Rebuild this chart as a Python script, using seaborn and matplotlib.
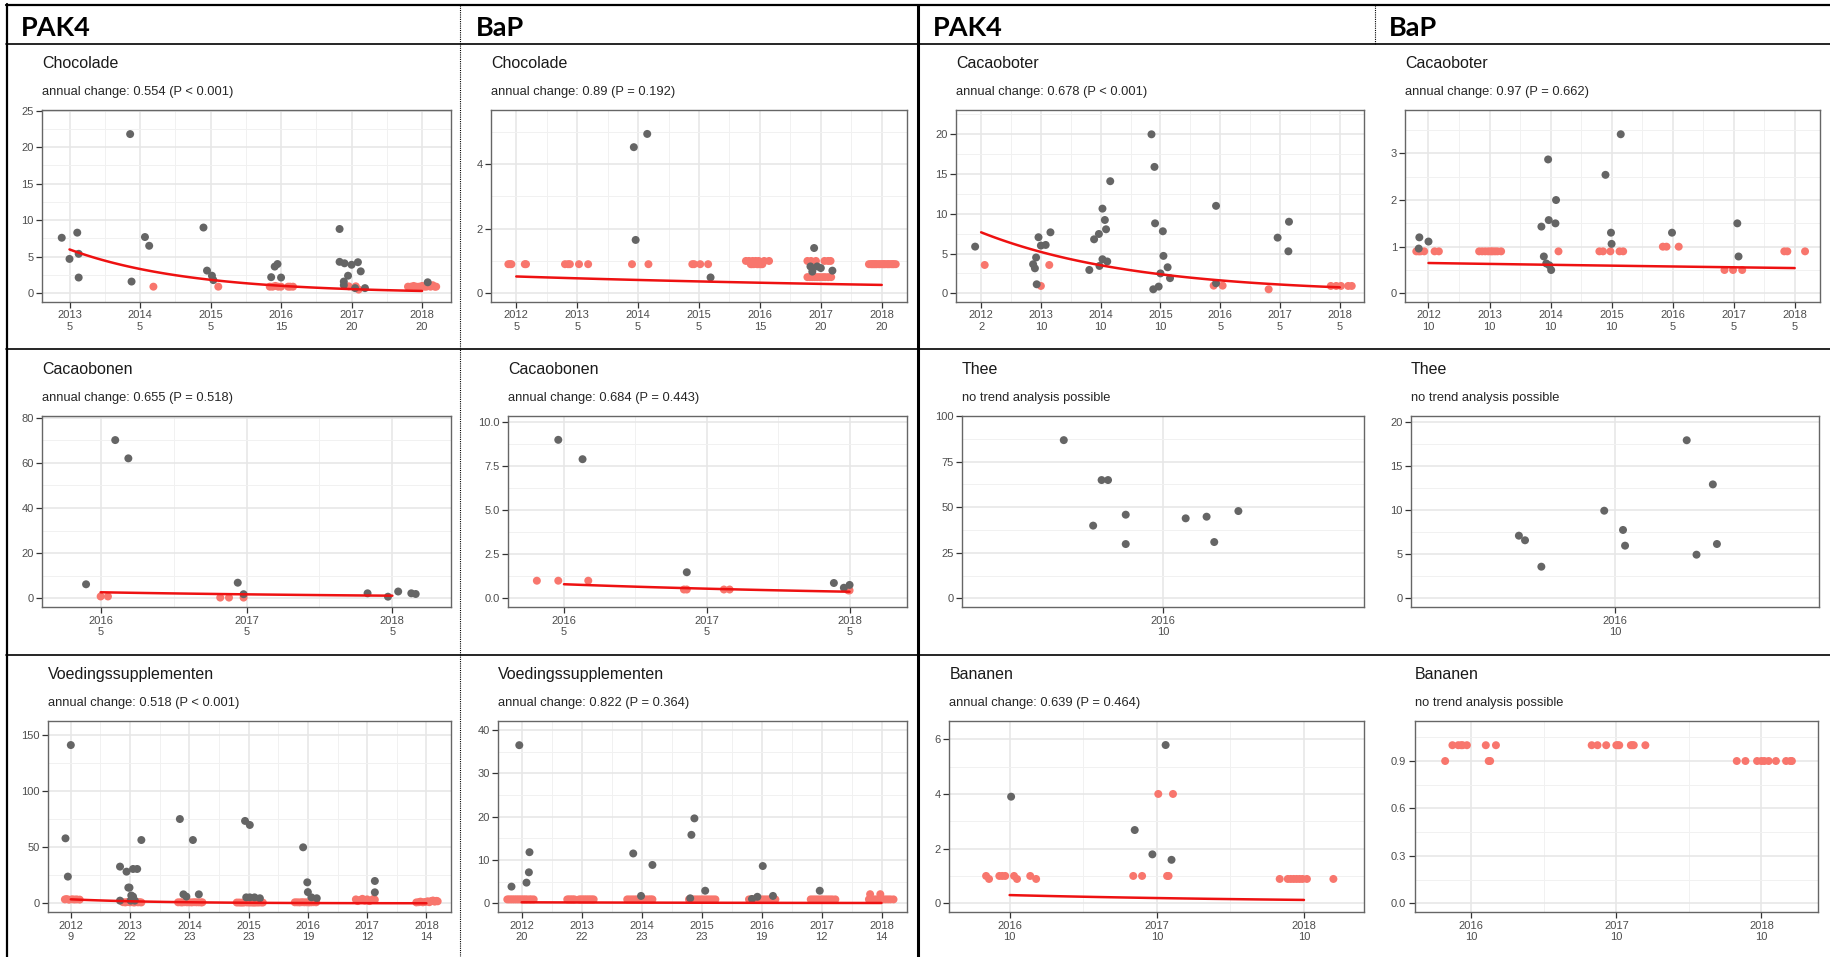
import numpy as np
import pandas as pd
import matplotlib
matplotlib.use("Agg")
import matplotlib.pyplot as plt
import seaborn as sns
from matplotlib.lines import Line2D

# ---------------------------------------------------------------- data
headers = ["PAK4", "BaP", "PAK4", "BaP"]

# Row 1 -- Chocolade (PAK4)
choc_pak4_title = "Chocolade"
choc_pak4_sub = "annual change: 0.554 (P < 0.001)"
choc_pak4_years = [2013, 2014, 2015, 2016, 2017, 2018]
choc_pak4_n = [5, 5, 5, 15, 20, 20]
choc_pak4_yticks = [0, 5, 10, 15, 20, 25]
choc_pak4_grey_x = [2012.89, 2013.00, 2013.11, 2013.13, 2013.13,
                    2013.86, 2013.88, 2014.07, 2014.13,
                    2014.90, 2014.95, 2015.02, 2015.04,
                    2015.86, 2015.91, 2015.95, 2016.00,
                    2016.83, 2016.83, 2016.90, 2016.95, 2017.00, 2017.09, 2017.13,
                    2016.89, 2016.89, 2017.05, 2017.19, 2018.08]
choc_pak4_grey_y = [7.6, 4.7, 8.3, 5.4, 2.15,
                    21.8, 1.6, 7.7, 6.5,
                    9.0, 3.1, 2.4, 1.8,
                    2.2, 3.65, 4.0, 2.15,
                    8.8, 4.3, 4.1, 2.4, 3.9, 4.25, 3.0,
                    1.6, 1.1, 0.7, 0.7, 1.5]
choc_pak4_red_x = [2014.19, 2015.11, 2015.84, 2015.88, 2015.92, 2015.96, 2016.00, 2016.10,
                   2016.13, 2016.17, 2016.96, 2017.06, 2017.10,
                   2017.80, 2017.84, 2017.88, 2017.92, 2017.96, 2018.00, 2018.03, 2018.06,
                   2018.09, 2018.12, 2018.15, 2018.18, 2018.20]
choc_pak4_red_y = [0.9, 0.9, 0.9, 0.9, 1.0, 0.9, 0.9, 0.9,
                   0.9, 0.9, 0.95, 0.95, 0.5,
                   0.9, 0.9, 1.0, 0.9, 0.9, 1.0, 0.9, 0.9,
                   1.0, 0.9, 1.1, 0.9, 0.9]
choc_pak4_trend = [2013, 2018, 6.0, 0.554]   # start year, end year, start level, annual change

# Row 1 -- Chocolade (BaP)
choc_bap_title = "Chocolade"
choc_bap_sub = "annual change: 0.89 (P = 0.192)"
choc_bap_years = [2012, 2013, 2014, 2015, 2016, 2017, 2018]
choc_bap_n = [5, 5, 5, 5, 15, 20, 20]
choc_bap_yticks = [0, 2, 4]
choc_bap_grey_x = [2013.93, 2014.15, 2013.96, 2015.19, 2016.89, 2016.83, 2016.94, 2017.00,
                   2017.19, 2016.86]
choc_bap_grey_y = [4.52, 4.93, 1.65, 0.49, 1.40, 0.83, 0.83, 0.78, 0.70, 0.67]
choc_bap_red_x = [2011.87, 2011.90, 2011.92, 2012.14, 2012.16,
                  2012.80, 2012.85, 2012.88, 2013.03, 2013.18,
                  2013.90, 2014.17,
                  2014.89, 2014.92, 2015.02, 2015.15,
                  2015.77, 2015.82, 2015.88, 2015.93, 2015.98, 2016.07, 2016.15,
                  2015.85, 2015.90, 2015.95, 2016.00, 2016.04, 2015.87, 2015.97, 2016.02,
                  2016.78, 2016.84, 2016.92, 2017.06, 2017.12, 2017.16,
                  2016.78, 2016.82, 2016.86, 2016.90, 2016.94, 2016.98, 2017.03, 2017.07,
                  2017.12, 2017.17,
                  2017.79, 2017.82, 2017.84, 2017.86, 2017.88, 2017.90, 2017.92, 2017.95,
                  2017.97, 2018.00, 2018.02, 2018.04, 2018.06, 2018.09, 2018.11, 2018.13,
                  2018.16, 2018.18, 2018.20, 2018.23]
choc_bap_red_y = [0.9, 0.9, 0.9, 0.9, 0.9,
                  0.9, 0.9, 0.9, 0.9, 0.9,
                  0.9, 0.9,
                  0.9, 0.9, 0.9, 0.9,
                  1.0, 1.0, 1.0, 1.0, 1.0, 1.0, 1.0,
                  0.9, 0.9, 0.9, 0.9, 0.9, 0.9, 0.9, 0.9,
                  1.0, 1.0, 1.0, 1.0, 1.0, 1.0,
                  0.5, 0.5, 0.5, 0.5, 0.5, 0.5, 0.5, 0.5,
                  0.5, 0.5,
                  0.9, 0.9, 0.9, 0.9, 0.9, 0.9, 0.9, 0.9,
                  0.9, 0.9, 0.9, 0.9, 0.9, 0.9, 0.9, 0.9,
                  0.9, 0.9, 0.9, 0.9]
choc_bap_trend = [2012, 2018, 0.52, 0.89]

# Row 1 -- Cacaoboter (PAK4)
boter_pak4_title = "Cacaoboter"
boter_pak4_sub = "annual change: 0.678 (P < 0.001)"
boter_pak4_years = [2012, 2013, 2014, 2015, 2016, 2017, 2018]
boter_pak4_n = [2, 10, 10, 10, 5, 5, 5]
boter_pak4_yticks = [0, 5, 10, 15, 20]
boter_pak4_grey_x = [2011.90, 2012.87, 2012.90, 2012.92, 2012.96, 2013.00, 2013.08, 2013.16, 2012.93,
                     2013.81, 2013.89, 2013.97, 2013.98, 2014.03, 2014.03, 2014.07, 2014.09, 2014.11, 2014.16,
                     2014.85, 2014.90, 2014.91, 2015.04, 2015.05, 2015.00, 2015.12, 2015.16, 2014.88, 2014.97,
                     2015.93, 2015.93, 2016.96, 2017.14, 2017.15]
boter_pak4_grey_y = [5.87, 3.65, 3.14, 4.5, 7.05, 6.0, 6.08, 7.67, 1.13,
                     2.93, 6.79, 7.46, 3.44, 10.65, 4.28, 9.22, 8.05, 4.0, 14.1,
                     20.0, 15.9, 8.8, 7.8, 4.7, 2.5, 3.27, 1.9, 0.5, 0.84,
                     11.0, 1.26, 7.0, 5.28, 9.0]
boter_pak4_red_x = [2012.06, 2013.00, 2013.14, 2015.89, 2016.04, 2016.81,
                    2017.85, 2017.94, 2018.02, 2018.14, 2018.20]
boter_pak4_red_y = [3.56, 0.92, 3.56, 0.96, 0.96, 0.5,
                    0.92, 0.92, 0.92, 0.92, 0.92]
boter_pak4_trend = [2012, 2018, 7.67, 0.678]

# Row 1 -- Cacaoboter (BaP)
boter_bap_title = "Cacaoboter"
boter_bap_sub = "annual change: 0.97 (P = 0.662)"
boter_bap_years = [2012, 2013, 2014, 2015, 2016, 2017, 2018]
boter_bap_n = [10, 10, 10, 10, 5, 5, 5]
boter_bap_yticks = [0, 1, 2, 3]
boter_bap_grey_x = [2011.85, 2011.84, 2012.00, 2013.85, 2013.97, 2014.08, 2013.96, 2014.09,
                    2013.89, 2013.93, 2013.98, 2014.01, 2014.90, 2014.99, 2015.00, 2015.15,
                    2015.99, 2017.06, 2017.08]
boter_bap_grey_y = [1.2, 0.96, 1.11, 1.43, 1.57, 1.5, 2.87, 2.0,
                    0.79, 0.64, 0.6, 0.5, 2.54, 1.3, 1.06, 3.41,
                    1.3, 1.5, 0.79]
boter_bap_red_x = [2011.80, 2011.84, 2011.87, 2011.93, 2012.10, 2012.17,
                   2012.83, 2012.88, 2012.93, 2012.98, 2013.02, 2013.05, 2013.09, 2013.13, 2013.19,
                   2014.13,
                   2014.80, 2014.86, 2014.98, 2015.13, 2015.19,
                   2015.84, 2015.90, 2016.10,
                   2016.85, 2016.99, 2017.14,
                   2017.83, 2017.88, 2018.17]
boter_bap_red_y = [0.9, 0.9, 0.9, 0.9, 0.9, 0.9,
                   0.9, 0.9, 0.9, 0.9, 0.9, 0.9, 0.9, 0.9, 0.9,
                   0.9,
                   0.9, 0.9, 0.9, 0.9, 0.9,
                   1.0, 1.0, 1.0,
                   0.5, 0.5, 0.5,
                   0.9, 0.9, 0.9]
boter_bap_trend = [2012, 2018, 0.65, 0.97]

# Row 2 -- Cacaobonen (PAK4)
bonen_pak4_title = "Cacaobonen"
bonen_pak4_sub = "annual change: 0.655 (P = 0.518)"
bonen_pak4_years = [2016, 2017, 2018]
bonen_pak4_n = [5, 5, 5]
bonen_pak4_yticks = [0, 20, 40, 60, 80]
bonen_pak4_grey_x = [2015.90, 2016.10, 2016.19, 2016.94, 2016.98, 2017.83, 2017.97, 2018.04,
                     2018.13, 2018.16]
bonen_pak4_grey_y = [6.2, 70.1, 62.0, 6.9, 1.8, 2.2, 0.7, 3.0, 2.2, 1.9]
bonen_pak4_red_x = [2016.00, 2016.05, 2016.82, 2016.88, 2016.98]
bonen_pak4_red_y = [0.8, 0.8, 0.3, 0.3, 0.3]
bonen_pak4_trend = [2016, 2018, 2.66, 0.655]

# Row 2 -- Cacaobonen (BaP)
bonen_bap_title = "Cacaobonen"
bonen_bap_sub = "annual change: 0.684 (P = 0.443)"
bonen_bap_years = [2016, 2017, 2018]
bonen_bap_n = [5, 5, 5]
bonen_bap_yticks = [0.0, 2.5, 5.0, 7.5, 10.0]
bonen_bap_grey_x = [2015.96, 2016.13, 2016.86, 2017.89, 2017.96, 2018.00]
bonen_bap_grey_y = [9.0, 7.9, 1.48, 0.87, 0.6, 0.76]
bonen_bap_red_x = [2015.81, 2015.96, 2016.17, 2016.84, 2016.86, 2017.12, 2017.16, 2017.99, 2018.00]
bonen_bap_red_y = [1.0, 1.0, 1.0, 0.5, 0.5, 0.5, 0.5, 0.45, 0.45]
bonen_bap_trend = [2016, 2018, 0.80, 0.684]

# Row 2 -- Thee (PAK4)
thee_pak4_title = "Thee"
thee_pak4_sub = "no trend analysis possible"
thee_pak4_years = [2016]
thee_pak4_n = [10]
thee_pak4_yticks = [0, 25, 50, 75, 100]
thee_pak4_grey_x = [2015.753, 2015.826, 2015.847, 2015.863, 2015.907, 2015.907, 2016.056,
                    2016.108, 2016.127, 2016.187]
thee_pak4_grey_y = [86.8, 39.9, 64.9, 64.9, 45.9, 29.8, 43.9, 44.8, 30.9, 47.9]
thee_pak4_red_x = []
thee_pak4_red_y = []

# Row 2 -- Thee (BaP)
thee_bap_title = "Thee"
thee_bap_sub = "no trend analysis possible"
thee_bap_years = [2016]
thee_bap_n = [10]
thee_bap_yticks = [0, 5, 10, 15, 20]
thee_bap_grey_x = [2015.765, 2015.780, 2015.820, 2015.974, 2016.020, 2016.025, 2016.176,
                   2016.200, 2016.240, 2016.250]
thee_bap_grey_y = [7.09, 6.57, 3.58, 9.92, 7.74, 5.96, 17.9, 4.94, 12.9, 6.15]
thee_bap_red_x = []
thee_bap_red_y = []

# Row 3 -- Voedingssupplementen (PAK4)
supp_pak4_title = "Voedingssupplementen"
supp_pak4_sub = "annual change: 0.518 (P < 0.001)"
supp_pak4_years = [2012, 2013, 2014, 2015, 2016, 2017, 2018]
supp_pak4_n = [9, 22, 23, 23, 19, 12, 14]
supp_pak4_yticks = [0, 50, 100, 150]
supp_pak4_grey_x = [2011.91, 2012.00, 2011.95,
                    2012.83, 2012.94, 2013.05, 2013.12, 2012.97, 2012.99, 2013.02, 2013.05,
                    2013.19, 2012.83, 2013.01, 2013.08,
                    2013.84, 2014.06, 2013.90, 2013.95, 2014.16,
                    2014.94, 2015.02, 2014.96, 2015.02, 2015.10, 2015.19,
                    2015.92, 2015.99, 2016.00, 2016.06, 2016.15,
                    2017.13, 2017.13]
supp_pak4_grey_y = [57.9, 141.0, 23.8,
                    32.7, 28.2, 30.6, 30.6, 14.0, 14.0, 7.0, 6.0,
                    56.4, 2.4, 2.4, 2.4,
                    75.1, 56.4, 8.0, 6.0, 8.0,
                    73.4, 69.8, 5.3, 5.3, 5.3, 4.5,
                    49.9, 18.7, 10.0, 5.3, 4.5,
                    19.9, 9.8]
supp_pak4_red_x = [2011.90, 2011.93, 2011.97, 2012.02, 2012.06, 2012.10, 2012.15,
                   2012.88, 2012.92, 2012.96, 2013.00, 2013.04, 2013.07, 2013.10, 2013.13,
                   2013.16, 2013.19,
                   2013.81, 2013.85, 2013.88, 2013.92, 2013.96, 2014.00, 2014.04, 2014.08,
                   2014.12, 2014.16, 2014.20, 2014.22,
                   2014.80, 2014.84, 2014.88, 2014.92, 2014.97, 2015.01, 2015.05, 2015.09,
                   2015.13, 2015.17, 2015.21, 2015.24,
                   2015.78, 2015.82, 2015.86, 2015.90, 2015.94, 2015.98, 2016.02, 2016.06,
                   2016.10, 2016.14,
                   2016.81, 2016.84, 2016.88, 2016.92, 2016.96, 2017.00, 2017.04, 2017.08,
                   2017.11, 2017.13,
                   2017.83, 2017.87, 2017.90, 2017.94, 2017.98, 2018.02, 2018.05, 2018.08,
                   2018.11, 2018.14, 2018.17, 2018.19]
supp_pak4_red_y = [3.5, 3.8, 3.2, 3.6, 3.4, 3.5, 3.3,
                   1.0, 0.8, 1.2, 0.9, 1.0, 0.7, 1.1, 0.9,
                   1.0, 0.8,
                   0.9, 0.9, 0.8, 1.0, 0.9, 0.9, 0.8, 1.0,
                   0.9, 0.9, 0.8, 0.9,
                   0.7, 0.7, 0.6, 0.7, 0.8, 0.7, 0.7, 0.6,
                   0.7, 0.7, 0.8, 0.7,
                   0.9, 0.9, 0.8, 1.0, 0.9, 0.9, 0.8, 0.9,
                   1.0, 0.9,
                   3.5, 2.0, 3.0, 4.0, 2.5, 3.5, 2.0, 3.0,
                   4.0, 3.2,
                   0.8, 1.0, 1.5, 0.9, 1.2, 1.8, 1.0, 2.0,
                   2.5, 1.5, 2.2, 1.8]
supp_pak4_trend = [2012, 2018, 3.56, 0.518]

# Row 3 -- Voedingssupplementen (BaP)
supp_bap_title = "Voedingssupplementen"
supp_bap_sub = "annual change: 0.822 (P = 0.364)"
supp_bap_years = [2012, 2013, 2014, 2015, 2016, 2017, 2018]
supp_bap_n = [20, 22, 23, 23, 19, 12, 14]
supp_bap_yticks = [0, 10, 20, 30, 40]
supp_bap_grey_x = [2011.83, 2011.96, 2012.08, 2012.12, 2012.13, 2013.86, 2014.18, 2013.99,
                   2014.81, 2014.83, 2014.88, 2015.06, 2015.84, 2015.93, 2016.02, 2016.19,
                   2016.97]
supp_bap_grey_y = [3.85, 36.5, 4.77, 7.15, 11.8, 11.5, 8.85, 1.7,
                   1.15, 15.8, 19.6, 2.9, 1.0, 1.5, 8.6, 1.7,
                   2.9]
supp_bap_red_x = [2011.76, 2011.79, 2011.82, 2011.85, 2011.88, 2011.91, 2011.94, 2011.97,
                  2012.00, 2012.03, 2012.06, 2012.09, 2012.13, 2012.16, 2012.20,
                  2012.76, 2012.79, 2012.82, 2012.85, 2012.88, 2012.96, 2012.99, 2013.02,
                  2013.05, 2013.08, 2013.11, 2013.14, 2013.17, 2013.20,
                  2013.76, 2013.80, 2013.84, 2013.88, 2013.92, 2013.96, 2014.00, 2014.04,
                  2014.08, 2014.12, 2014.15, 2014.18,
                  2014.79, 2014.83, 2014.87, 2014.91, 2014.95, 2014.99, 2015.03, 2015.07,
                  2015.11, 2015.15, 2015.19, 2015.23,
                  2015.79, 2015.83, 2015.87, 2015.91, 2015.95, 2015.99, 2016.03, 2016.07,
                  2016.11, 2016.15, 2016.19, 2016.23,
                  2016.82, 2016.86, 2016.90, 2016.94, 2016.98, 2017.02, 2017.06, 2017.10,
                  2017.14, 2017.18, 2017.23,
                  2017.79, 2017.83, 2017.87, 2017.91, 2017.95, 2017.99, 2018.03, 2018.07,
                  2018.11, 2018.15, 2018.20, 2017.81, 2017.98]
supp_bap_red_y = [0.9] * 87 + [2.1, 2.1]
supp_bap_trend = [2012, 2018, 0.23, 0.822]

# Row 3 -- Bananen (PAK4)
banaan_pak4_title = "Bananen"
banaan_pak4_sub = "annual change: 0.639 (P = 0.464)"
banaan_pak4_years = [2016, 2017, 2018]
banaan_pak4_n = [10, 10, 10]
banaan_pak4_yticks = [0, 2, 4, 6]
banaan_pak4_grey_x = [2016.01, 2016.85, 2016.97, 2017.06, 2017.10]
banaan_pak4_grey_y = [3.9, 2.68, 1.79, 5.79, 1.59]
banaan_pak4_red_x = [2015.84, 2015.86, 2015.93, 2015.95, 2015.97, 2016.03, 2016.05, 2016.14, 2016.18,
                     2016.84, 2016.90, 2017.01, 2017.11, 2017.07, 2017.08,
                     2017.835, 2017.89, 2017.91, 2017.93, 2017.95, 2017.97, 2017.99, 2018.02, 2018.20]
banaan_pak4_red_y = [1.0, 0.89, 1.0, 1.0, 1.0, 1.0, 0.89, 1.0, 0.89,
                     1.0, 1.0, 4.0, 4.0, 1.0, 1.0,
                     0.89, 0.89, 0.89, 0.89, 0.89, 0.89, 0.89, 0.89, 0.89]
banaan_pak4_trend = [2016, 2018, 0.30, 0.639]

# Row 3 -- Bananen (BaP)
banaan_bap_title = "Bananen"
banaan_bap_sub = "no trend analysis possible"
banaan_bap_years = [2016, 2017, 2018]
banaan_bap_n = [10, 10, 10]
banaan_bap_yticks = [0.0, 0.3, 0.6, 0.9]
banaan_bap_grey_x = []
banaan_bap_grey_y = []
banaan_bap_red_x = [2015.82, 2015.87, 2015.91, 2015.93, 2015.94, 2015.97, 2016.10, 2016.12, 2016.13, 2016.17,
                    2016.83, 2016.87, 2016.93, 2017.00, 2017.01, 2017.02, 2017.10, 2017.11, 2017.12, 2017.20,
                    2017.83, 2017.89, 2017.97, 2018.00, 2018.02, 2018.05, 2018.10, 2018.17, 2018.20, 2018.21]
banaan_bap_red_y = [0.9, 1.0, 1.0, 1.0, 1.0, 1.0, 1.0, 0.9, 0.9, 1.0,
                    1.0, 1.0, 1.0, 1.0, 1.0, 1.0, 1.0, 1.0, 1.0, 1.0,
                    0.9, 0.9, 0.9, 0.9, 0.9, 0.9, 0.9, 0.9, 0.9, 0.9]

# ---------------------------------------------------------------- style
GREY = "#656565"
SALMON = "#F8766D"
TREND = "#EE1111"
W, H = 1830, 957

sns.set_theme(style="white")
plt.rcParams["font.family"] = ["Liberation Sans", "DejaVu Sans"]

fig = plt.figure(figsize=(W / 100, H / 100), dpi=100)
fig.patch.set_facecolor("white")


def minor_ticks(major, lim):
    if len(major) < 2:
        return []
    step = major[1] - major[0]
    cand = [major[0] - step / 2] + [m + step / 2 for m in major]
    return [c for c in cand if lim[0] <= c <= lim[1]]


def panel(box, title, sub, years, counts, yticks, yfmt, xlim, ylim,
          gx, gy, rx, ry, trend=None):
    l, r, t, b = box
    ax = fig.add_axes([l / W, 1 - b / H, (r - l) / W, (b - t) / H])
    ax.set_xlim(*xlim)
    ax.set_ylim(*ylim)
    ax.set_xticks(years)
    ax.set_xticklabels([f"{y}\n{c}" for y, c in zip(years, counts)])
    ax.set_yticks(yticks)
    ax.set_yticklabels([yfmt.format(v) for v in yticks])
    ax.set_xticks(minor_ticks(years, xlim), minor=True)
    ax.set_yticks(minor_ticks(yticks, ylim), minor=True)
    ax.grid(which="major", color="#E6E6E6", lw=1.1, zorder=0)
    ax.grid(which="minor", color="#F1F1F1", lw=0.7, zorder=0)
    ax.set_axisbelow(True)
    ax.tick_params(which="minor", length=0)
    ax.tick_params(which="major", length=4, width=0.9, color="#333333",
                   labelsize=8, labelcolor="#4D4D4D", pad=2,
                   bottom=True, left=True, top=False, right=False)
    for lbl in ax.get_xticklabels():
        lbl.set_linespacing(1.2)
    for sp in ax.spines.values():
        sp.set_color("#666666")
        sp.set_linewidth(1.0)

    df = pd.DataFrame({
        "year": list(rx) + list(gx),
        "value": list(ry) + list(gy),
        "status": ["red"] * len(rx) + ["grey"] * len(gx),
    })
    sns.scatterplot(data=df, x="year", y="value", hue="status",
                    palette={"red": SALMON, "grey": GREY}, s=33, linewidth=0,
                    legend=False, ax=ax, zorder=3)
    if trend is not None:
        t0, t1, a, rate = trend
        tt = np.linspace(t0, t1, 80)
        sns.lineplot(x=tt, y=a * rate ** (tt - t0), color=TREND, lw=1.8,
                     ax=ax, zorder=4)
    ax.set_xlabel("")
    ax.set_ylabel("")

    fig.text(l / W, 1 - (t - 42) / H, title, ha="left", va="baseline",
             fontsize=11.5, color="#1A1A1A")
    fig.text(l / W, 1 - (t - 14.5) / H, sub, ha="left", va="baseline",
             fontsize=9.3, color="#262626")
    return ax


T1, B1 = 110, 302
T2, B2 = 415.7, 607.3
T3, B3 = 720.7, 912.3

panel((42, 451, T1, B1), choc_pak4_title, choc_pak4_sub, choc_pak4_years, choc_pak4_n,
      choc_pak4_yticks, "{:.0f}", (2012.61, 2018.41), (-1.2, 25.1),
      choc_pak4_grey_x, choc_pak4_grey_y, choc_pak4_red_x, choc_pak4_red_y, choc_pak4_trend)
panel((491.3, 906.7, T1, B1), choc_bap_title, choc_bap_sub, choc_bap_years, choc_bap_n,
      choc_bap_yticks, "{:.0f}", (2011.59, 2018.41), (-0.27, 5.67),
      choc_bap_grey_x, choc_bap_grey_y, choc_bap_red_x, choc_bap_red_y, choc_bap_trend)
panel((956, 1364.3, T1, B1), boter_pak4_title, boter_pak4_sub, boter_pak4_years, boter_pak4_n,
      boter_pak4_yticks, "{:.0f}", (2011.58, 2018.41), (-1.1, 23.06),
      boter_pak4_grey_x, boter_pak4_grey_y, boter_pak4_red_x, boter_pak4_red_y, boter_pak4_trend)
panel((1405.3, 1819.7, T1, B1), boter_bap_title, boter_bap_sub, boter_bap_years, boter_bap_n,
      boter_bap_yticks, "{:.0f}", (2011.62, 2018.41), (-0.186, 3.93),
      boter_bap_grey_x, boter_bap_grey_y, boter_bap_red_x, boter_bap_red_y, boter_bap_trend)

panel((42.3, 450.7, T2, B2), bonen_pak4_title, bonen_pak4_sub, bonen_pak4_years, bonen_pak4_n,
      bonen_pak4_yticks, "{:.0f}", (2015.6, 2018.40), (-4.0, 80.9),
      bonen_pak4_grey_x, bonen_pak4_grey_y, bonen_pak4_red_x, bonen_pak4_red_y, bonen_pak4_trend)
panel((508.3, 906.7, T2, B2), bonen_bap_title, bonen_bap_sub, bonen_bap_years, bonen_bap_n,
      bonen_bap_yticks, "{:.1f}", (2015.61, 2018.40), (-0.51, 10.37),
      bonen_bap_grey_x, bonen_bap_grey_y, bonen_bap_red_x, bonen_bap_red_y, bonen_bap_trend)
panel((962, 1364.3, T2, B2), thee_pak4_title, thee_pak4_sub, thee_pak4_years, thee_pak4_n,
      thee_pak4_yticks, "{:.0f}", (2015.5, 2016.5), (-4.9, 100.2),
      thee_pak4_grey_x, thee_pak4_grey_y, thee_pak4_red_x, thee_pak4_red_y)
panel((1410.7, 1819, T2, B2), thee_bap_title, thee_bap_sub, thee_bap_years, thee_bap_n,
      thee_bap_yticks, "{:.0f}", (2015.5, 2016.5), (-1.02, 20.68),
      thee_bap_grey_x, thee_bap_grey_y, thee_bap_red_x, thee_bap_red_y)

panel((48.3, 450.7, T3, B3), supp_pak4_title, supp_pak4_sub, supp_pak4_years, supp_pak4_n,
      supp_pak4_yticks, "{:.0f}", (2011.62, 2018.41), (-8.0, 162.7),
      supp_pak4_grey_x, supp_pak4_grey_y, supp_pak4_red_x, supp_pak4_red_y, supp_pak4_trend)
panel((498.3, 906.7, T3, B3), supp_bap_title, supp_bap_sub, supp_bap_years, supp_bap_n,
      supp_bap_yticks, "{:.0f}", (2011.61, 2018.42), (-2.08, 42.15),
      supp_bap_grey_x, supp_bap_grey_y, supp_bap_red_x, supp_bap_red_y, supp_bap_trend)
panel((949.3, 1364.3, T3, B3), banaan_pak4_title, banaan_pak4_sub, banaan_pak4_years, banaan_pak4_n,
      banaan_pak4_yticks, "{:.0f}", (2015.59, 2018.41), (-0.33, 6.68),
      banaan_pak4_grey_x, banaan_pak4_grey_y, banaan_pak4_red_x, banaan_pak4_red_y, banaan_pak4_trend)
panel((1414.7, 1818, T3, B3), banaan_bap_title, banaan_bap_sub, banaan_bap_years, banaan_bap_n,
      banaan_bap_yticks, "{:.1f}", (2015.61, 2018.39), (-0.057, 1.155),
      banaan_bap_grey_x, banaan_bap_grey_y, banaan_bap_red_x, banaan_bap_red_y)

# ---------------------------------------------------------------- header & frame
for x, txt in zip([21, 476, 933, 1389], headers):
    fig.text(x / W, 1 - 36 / H, txt, ha="left", va="baseline", fontsize=19.5,
             fontweight="bold", family=["Lato", "DejaVu Sans"], color="black")


def fline(x0, y0, x1, y1, lw=1.2, ls="-"):
    fig.add_artist(Line2D([x0 / W, x1 / W], [1 - y0 / H, 1 - y1 / H],
                          transform=fig.transFigure, color="black", lw=lw, ls=ls))


fline(6, 5, W, 5, lw=1.6)
fline(6, 44, W, 44, lw=1.2)
fline(6, 349, W, 349, lw=1.2)
fline(6, 655, W, 655, lw=1.2)
fline(7, 4, 7, H, lw=1.6)
fline(460, 5, 460, H, lw=0.8, ls=(0, (1, 1)))
fline(918, 5, 918, H, lw=2.2)
fline(1375, 5, 1375, 44, lw=0.8, ls=(0, (1, 1)))

fig.savefig("out.png", dpi=100)
